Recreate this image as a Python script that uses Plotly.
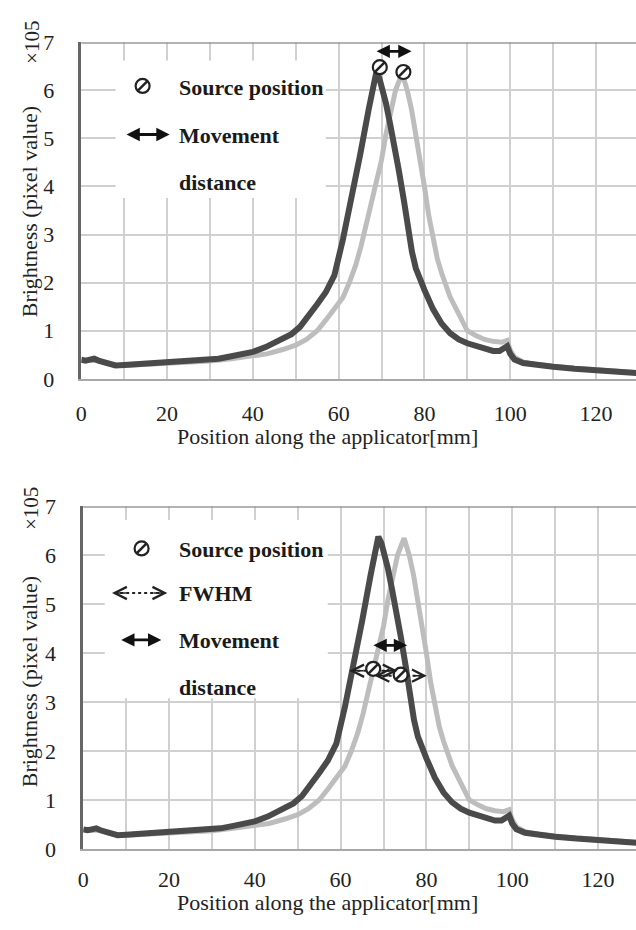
import plotly.graph_objects as go

# ---------------- data ----------------
dark_pos = [0, 1, 2, 3, 4, 6, 8, 10, 12, 15, 18, 20, 23, 26, 29, 32, 35, 38, 40, 43, 46, 49, 51, 53, 55, 57, 59,
            61, 63, 65, 67, 68, 68.8, 69.5, 70, 71, 72, 73.3, 74, 75.2, 76, 77.1, 78, 79, 80, 82, 84, 86, 88, 90,
            92, 94, 96, 97.5, 98.5, 99.3, 100, 101, 103, 106, 110, 115, 120, 125, 130]
dark_val = [0.40, 0.38, 0.40, 0.42, 0.38, 0.33, 0.28, 0.29, 0.30, 0.31, 0.32, 0.33, 0.35, 0.37, 0.38, 0.42, 0.47,
            0.52, 0.56, 0.66, 0.78, 0.93, 1.08, 1.30, 1.55, 1.80, 2.15, 2.90, 3.72, 4.65, 5.60, 6.00, 6.38, 6.25,
            6.10, 5.74, 5.30, 4.73, 4.35, 3.72, 3.25, 2.64, 2.30, 2.05, 1.85, 1.45, 1.15, 0.95, 0.82, 0.74, 0.68,
            0.62, 0.58, 0.58, 0.62, 0.68, 0.52, 0.40, 0.33, 0.29, 0.25, 0.21, 0.18, 0.15, 0.12]

light_pos = [0, 2, 4, 6, 8, 10, 15, 20, 25, 30, 35, 40, 43.3, 47, 50, 52.5, 55, 57, 59, 61, 62.5, 64, 65.2, 66.4,
             67.5, 68.7, 70, 71, 72.2, 73.3, 74.8, 76, 77, 78, 79, 80, 81, 82, 83, 84, 85, 86, 88, 90, 92, 94, 96,
             98, 99.3, 100, 101, 103, 106, 110, 115, 120, 125, 130]
light_val = [0.38, 0.37, 0.38, 0.32, 0.28, 0.28, 0.30, 0.32, 0.35, 0.37, 0.42, 0.48, 0.52, 0.61, 0.70, 0.82, 1.00,
             1.22, 1.45, 1.69, 2.00, 2.37, 2.75, 3.18, 3.60, 4.05, 4.55, 5.07, 5.55, 6.01, 6.35, 6.00, 5.60, 5.10,
             4.60, 4.00, 3.40, 2.90, 2.50, 2.20, 1.95, 1.70, 1.35, 1.00, 0.90, 0.82, 0.78, 0.76, 0.80, 0.60, 0.45,
             0.35, 0.30, 0.26, 0.22, 0.19, 0.16, 0.13]

assert len(dark_pos) == len(dark_val) and len(light_pos) == len(light_val)

x_tick_vals = [0, 20, 40, 60, 80, 100, 120]
y_tick_vals = [0, 1, 2, 3, 4, 5, 6, 7]

# source positions / arrows (data coords)
top_src_x = [69.6, 75.1]
top_src_y = [6.48, 6.38]
top_move = (68.5, 77.0, 6.81)
bot_src_x = [67.6, 74.0]
bot_src_y = [3.68, 3.56]
bot_move = (67.3, 75.5, 4.16)
fwhm_dark = (62.0, 73.3, 3.64)
fwhm_light = (67.9, 80.1, 3.54)

# ---------------- styling ----------------
W, H = 636, 930
FONT = "Liberation Serif, Times New Roman, DejaVu Serif, serif"
DARK = "#4a4a4a"
LIGHT = "#bdbdbd"
GRID = "#d0d0d0"
FS = 22


def py(pix):
    return 1 - pix / H


fig = go.Figure()

panels = [
    dict(xa="x", ya="y", x0=76, y0=377, y7=31),
    dict(xa="x2", ya="y2", x0=78, y0=860, y7=508),
]
PXU = 4.33

for i, p in enumerate(panels):
    sfx = "" if i == 0 else "2"
    fig.add_trace(go.Scatter(x=light_pos, y=light_val, mode="lines",
                             line=dict(color=LIGHT, width=5), xaxis=p["xa"], yaxis=p["ya"],
                             showlegend=False, hoverinfo="skip"))
    fig.add_trace(go.Scatter(x=dark_pos, y=dark_val, mode="lines",
                             line=dict(color=DARK, width=6), xaxis=p["xa"], yaxis=p["ya"],
                             showlegend=False, hoverinfo="skip"))
    xr = (W - p["x0"]) / PXU
    fig.layout["xaxis" + sfx] = dict(
        domain=[p["x0"] / W, 1], range=[0, xr], anchor=p["ya"],
        tickvals=x_tick_vals, showgrid=True, gridcolor=GRID, gridwidth=1.5,
        minor=dict(dtick=10, tick0=0, showgrid=True, gridcolor=GRID, gridwidth=1.5),
        showline=True, linecolor="#a8a8a8", linewidth=2, zeroline=False,
        ticks="", ticklabelstandoff=14 if i == 0 else 10,
        tickfont=dict(family=FONT, size=FS, color="#222"),
    )
    fig.layout["yaxis" + sfx] = dict(
        domain=[py(p["y0"]), py(p["y7"])], range=[0, 7], anchor=p["xa"],
        tickvals=y_tick_vals, showgrid=True, gridcolor=GRID, gridwidth=1.5,
        showline=True, linecolor="#666666", linewidth=2.5, zeroline=False,
        ticks="", ticklabelstandoff=20,
        tickfont=dict(family=FONT, size=FS, color="#222"),
    )
    # top border
    fig.add_shape(type="line", xref=p["xa"] + " domain", yref=p["ya"], x0=0, x1=1, y0=7, y1=7,
                  line=dict(color="#9a9a9a", width=3), layer="above")

# white legend boxes (cover grid)
fig.add_shape(type="rect", xref="x", yref="y", x0=8, x1=57, y0=3.76, y1=6.62,
              fillcolor="white", line=dict(width=0), layer="between")
fig.add_shape(type="rect", xref="x2", yref="y2", x0=5, x1=57, y0=3.08, y1=6.72,
              fillcolor="white", line=dict(width=0), layer="between")


def src_marker(xs, ys, xa, ya):
    fig.add_trace(go.Scatter(x=xs, y=ys, mode="markers", xaxis=xa, yaxis=ya, showlegend=False,
                             hoverinfo="skip",
                             marker=dict(symbol="circle", size=14, color="white",
                                         line=dict(color="#222", width=2.2))))
    fig.add_trace(go.Scatter(x=xs, y=ys, mode="markers", xaxis=xa, yaxis=ya, showlegend=False,
                             hoverinfo="skip",
                             marker=dict(symbol="line-ne", size=9, line=dict(color="#222", width=2.5))))


def solid_arrow(x0, x1, y, xa, ya):
    fig.add_annotation(x=x1, y=y, ax=x0, ay=y, xref=xa, yref=ya, axref=xa, ayref=ya, text="",
                       showarrow=True, arrowside="end+start", arrowhead=2, arrowsize=0.95,
                       arrowwidth=2.8, arrowcolor="#111")


def dotted_arrow(x0, x1, y, xa, ya):
    fig.add_trace(go.Scatter(x=[x0 + 0.5, x1 - 0.5], y=[y, y], mode="lines", xaxis=xa, yaxis=ya,
                             showlegend=False, hoverinfo="skip",
                             line=dict(color="#222", width=2, dash="dot")))
    for tip, tail in ((x1, x1 - 3.6), (x0, x0 + 3.6)):
        fig.add_annotation(x=tip, y=y, ax=tail, ay=y, xref=xa, yref=ya, axref=xa, ayref=ya, text="",
                           showarrow=True, arrowhead=5, arrowsize=1.6, arrowwidth=1.5,
                           arrowcolor="#222")


def legend_text(x, y, s, xa, ya):
    fig.add_annotation(x=x, y=y, xref=xa, yref=ya, text="<b>" + s + "</b>", showarrow=False,
                       xanchor="left", yanchor="middle",
                       font=dict(family=FONT, size=FS, color="#1a1a1a"))


# ---- top panel ----
src_marker(top_src_x, top_src_y, "x", "y")
solid_arrow(top_move[0], top_move[1], top_move[2], "x", "y")
src_marker([14.3], [6.09], "x", "y")
legend_text(22.2, 6.06, "Source position", "x", "y")
solid_arrow(10.2, 20.6, 5.08, "x", "y")
legend_text(22.2, 5.06, "Movement", "x", "y")
legend_text(22.2, 4.08, "distance", "x", "y")

# ---- bottom panel ----
dotted_arrow(fwhm_dark[0], fwhm_dark[1], fwhm_dark[2], "x2", "y2")
dotted_arrow(fwhm_light[0], fwhm_light[1], fwhm_light[2], "x2", "y2")
src_marker(bot_src_x, bot_src_y, "x2", "y2")
solid_arrow(bot_move[0], bot_move[1], bot_move[2], "x2", "y2")
src_marker([13.6], [6.14], "x2", "y2")
legend_text(21.9, 6.12, "Source position", "x2", "y2")
dotted_arrow(6.7, 19.6, 5.23, "x2", "y2")
legend_text(21.9, 5.21, "FWHM", "x2", "y2")
solid_arrow(8.5, 18.2, 4.27, "x2", "y2")
legend_text(21.9, 4.25, "Movement", "x2", "y2")
legend_text(21.9, 3.30, "distance", "x2", "y2")

# ---- axis titles ----
for yc, yx, yt in ((205, 31, 436), (688, 510, 915)):
    fig.add_annotation(x=24 / W, y=py(yc), xref="paper", yref="paper", text="Brightness (pixel value)",
                       textangle=-90, showarrow=False, xanchor="center", yanchor="middle",
                       font=dict(family=FONT, size=FS, color="#222"))
    fig.add_annotation(x=26 / W, y=py(yx), xref="paper", yref="paper", text="×105",
                       textangle=-90, showarrow=False, xanchor="center", yanchor="middle",
                       font=dict(family=FONT, size=21, color="#222"))
    fig.add_annotation(x=325 / W, y=py(yt), xref="paper", yref="paper",
                       text="Position along the applicator[mm]", showarrow=False,
                       xanchor="center", yanchor="middle",
                       font=dict(family=FONT, size=FS, color="#222"))

fig.update_layout(width=W, height=H, margin=dict(l=0, r=0, t=0, b=0),
                  paper_bgcolor="white", plot_bgcolor="white", showlegend=False,
                  font=dict(family=FONT))

fig.write_html("out.html")
